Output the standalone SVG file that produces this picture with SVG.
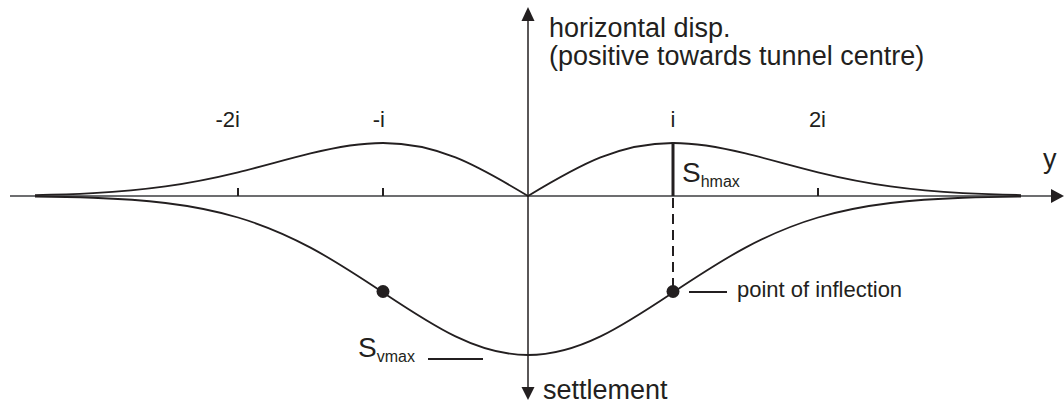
<svg xmlns="http://www.w3.org/2000/svg" width="1064" height="406" viewBox="0 0 1064 406">
<style>
text{font-family:"Liberation Sans",Arial,Helvetica,sans-serif;fill:#231f20}
.big{font-size:27px}
.lab{font-size:22px}
.sm{font-size:22px}
.S{font-size:28px}
.sub{font-size:16px}
.curve{fill:none;stroke:#231f20;stroke-width:1.8}
.tick{stroke:#231f20;stroke-width:2}
.lead{stroke:#231f20;stroke-width:2}
</style>
<rect width="1064" height="406" fill="#fff"/>
<g id="axes">
<line x1="10" y1="196" x2="1052" y2="196" stroke="#6d6e70" stroke-width="2"/>
<polygon points="1051,189 1064,196 1051,203" fill="#231f20"/>
<line x1="528" y1="20" x2="528" y2="388" stroke="#231f20" stroke-width="1.5"/>
<polygon points="521.5,21 528,7 534.5,21" fill="#231f20"/>
<polygon points="521.5,387 528,400 534.5,387" fill="#231f20"/>
</g>
<g id="ticks">
<line class="tick" x1="238" y1="188" x2="238" y2="196"/>
<line class="tick" x1="383" y1="188" x2="383" y2="196"/>
<line class="tick" x1="818" y1="188" x2="818" y2="196"/>
</g>
<g id="curves">
<path id="settlement-curve" class="curve" d="M35,196.49 C54.33,196.71 73.67,197.06 93,197.77 C117.17,198.65 141.33,200.08 165.5,202.99 C189.67,205.9 213.83,210.34 238,217.51 C262.17,224.68 286.33,234.72 310.5,247.63 C334.67,260.54 358.83,276.36 383,292.43 C407.17,308.5 431.33,324.63 455.5,336.32 C479.67,348.01 503.83,355 528,355 C552.17,355 576.33,348.01 600.5,336.32 C624.67,324.63 648.83,308.5 673,292.43 C697.17,276.36 721.33,260.54 745.5,247.63 C769.67,234.72 793.83,224.68 818,217.51 C842.17,210.34 866.33,205.9 890.5,202.99 C914.67,200.08 938.83,198.65 963,197.77 C982.33,197.06 1001.67,196.71 1021,196.49"/>
<path id="horizontal-curve" class="curve" d="M35,195.08 C54.33,194.7 73.67,194.13 93,193.09 C117.17,191.8 141.33,189.76 165.5,186.4 C189.67,183.04 213.83,178.26 238,172.35 C262.17,166.44 286.33,159.35 310.5,153.44 C334.67,147.53 358.83,143 383,143 C407.17,143 431.33,147.8 455.5,157.44 C479.67,167.08 503.83,181.44 528,196 C552.17,181.44 576.33,167.08 600.5,157.44 C624.67,147.8 648.83,143 673,143 C697.17,143 721.33,147.53 745.5,153.44 C769.67,159.35 793.83,166.44 818,172.35 C842.17,178.26 866.33,183.04 890.5,186.4 C914.67,189.76 938.83,191.8 963,193.09 C982.33,194.13 1001.67,194.7 1021,195.08"/>
</g>
<g id="shmax-bar">
<line x1="673" y1="142" x2="673" y2="196" stroke="#231f20" stroke-width="3"/>
<line x1="673" y1="198" x2="673" y2="286" stroke="#231f20" stroke-width="2" stroke-dasharray="10 6"/>
</g>
<g id="inflection-points">
<circle cx="383" cy="291.5" r="6.5" fill="#231f20"/>
<circle cx="673" cy="291.5" r="6.5" fill="#231f20"/>
<line class="lead" x1="689" y1="292" x2="727" y2="292"/>
<line class="lead" x1="428" y1="359" x2="483" y2="359"/>
</g>
<g id="labels">
<text class="big" x="549" y="37">horizontal disp.</text>
<text class="big" x="549" y="65">(positive towards tunnel centre)</text>
<text class="lab" x="240" y="127" text-anchor="end">-2i</text>
<text class="lab" x="385" y="127" text-anchor="end">-i</text>
<text class="lab" x="673" y="127" text-anchor="middle">i</text>
<text class="lab" x="826" y="127" text-anchor="end">2i</text>
<text class="big" x="1043" y="168">y</text>
<text class="S" x="682" y="182">S<tspan class="sub" dy="5">hmax</tspan></text>
<text class="S" x="358" y="357">S<tspan class="sub" dy="5">vmax</tspan></text>
<text class="sm" x="737" y="297">point of inflection</text>
<text class="big" x="543" y="399">settlement</text>
</g>
</svg>
